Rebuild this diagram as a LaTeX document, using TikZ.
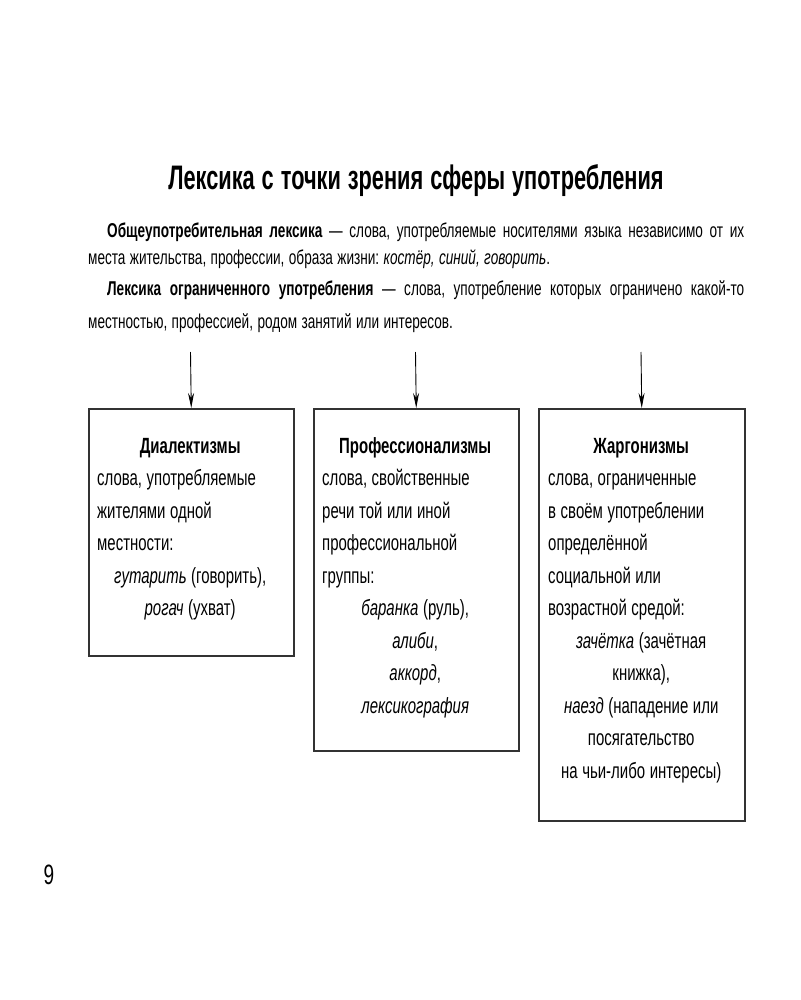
\documentclass[tikz,border=0pt]{standalone}
\usepackage{fontspec}
\setmainfont{Liberation Sans}[FakeStretch=0.68]
\newfontfamily\titlefont{Liberation Sans}[FakeStretch=0.64]
\usetikzlibrary{arrows.meta}
\newcommand\cl[1]{\makebox[186pt]{#1}}
\newcommand\bxs{\spaceskip=4.6pt plus 1pt minus 0.5pt\relax}
\frenchspacing
\begin{document}
\begin{tikzpicture}[x=1pt,y=-1pt,
  panel/.style={draw=black!80, line width=1.5pt, minimum width=205pt, inner sep=0pt, anchor=north west},
  boxtext/.style={text width=186pt, align=left, inner sep=0pt, anchor=base west,
    font={\fontsize{22}{32.5}\selectfont}},
  body/.style={inner sep=0pt, anchor=base west,
    font={\fontsize{20}{24}\selectfont\spaceskip=4.4pt plus 4pt minus 0.5pt}},
  arr/.style={line width=0.9pt, -{Stealth[length=15pt,width=6pt]}}]
\fill[white] (0,0) rectangle (800,1000);
\useasboundingbox (0,0) rectangle (800,1000);

\node[inner sep=0pt, anchor=base, font={\titlefont\bfseries\fontsize{34}{38}\selectfont\spaceskip=7pt}] (title) at (416,190) {Лексика с точки зрения сферы употребления};

\node[body] (p1) at (107,237) {\makebox[637pt][s]{\textbf{Общеупотребительная лексика} — слова, употребляемые носителями языка независимо от их}};
\node[body] (p2) at (88,264) {места жительства, профессии, образа жизни: \textit{костёр, синий, говорить}.};
\node[body] (p3) at (107,295) {\makebox[637pt][s]{\textbf{Лексика ограниченного употребления} — слова, употребление которых ограничено какой-то}};
\node[body] (p4) at (88,328) {местностью, профессией, родом занятий или интересов.};

\node[panel, minimum height=247pt] (b1) at (88,408) {};
\node[panel, minimum height=342pt] (b2) at (313,408) {};
\node[panel, minimum height=412pt, minimum width=206pt] (b3) at (538,408) {};

\coordinate (a1) at (190.5,352);
\coordinate (a2) at (415.5,352);
\coordinate (a3) at (641,352);
\draw[arr] (a1) -- (b1.north);
\draw[arr] (a2) -- (b2.north);
\draw[arr] (a3) -- (b3.north);

\node[boxtext] (t1) at (97,453) {\bxs\cl{\textbf{Диалектизмы}}\\
\bxs слова, употребляемые\\
\bxs жителями одной\\
\bxs местности:\\
\bxs\cl{\textit{гутарить} (говорить),}\\
\bxs\cl{\textit{рогач} (ухват)}};

\node[boxtext] (t2) at (322,453) {\bxs\cl{\textbf{Профессионализмы}}\\
\bxs слова, свойственные\\
\bxs речи той или иной\\
\bxs профессиональной\\
\bxs группы:\\
\bxs\cl{\textit{баранка} (руль),}\\
\bxs\cl{\textit{алиби},}\\
\bxs\cl{\textit{аккорд},}\\
\bxs\cl{\textit{лексикография}}};

\node[boxtext] (t3) at (548,453) {\bxs\cl{\textbf{Жаргонизмы}}\\
\bxs слова, ограниченные\\
\bxs в своём употреблении\\
\bxs определённой\\
\bxs социальной или\\
\bxs возрастной средой:\\
\bxs\cl{\textit{зачётка} (зачётная}\\
\bxs\cl{книжка),}\\
\bxs\cl{\textit{наезд} (нападение или}\\
\bxs\cl{посягательство}\\
\bxs\cl{на чьи-либо интересы)}};

\node[inner sep=0pt, anchor=base, font=\fontsize{28}{30}\selectfont] (pg) at (49,884) {9};
\end{tikzpicture}
\end{document}
